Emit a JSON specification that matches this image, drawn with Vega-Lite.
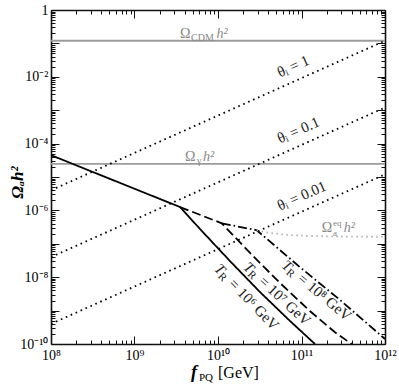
{
"$schema": "https://vega.github.io/schema/vega-lite/v6.json",
"width": 334, "height": 334,
"autosize": {"type": "none"},
"padding": {"left": 51, "top": 10, "right": 14, "bottom": 41},
"background": "white",
"config": {
  "view": {"stroke": null},
  "font": "Liberation Serif",
  "axis": {"domainColor": "#111111", "domainWidth": 1.6, "tickColor": "#111111", "tickWidth": 1, "labelFont": "Liberation Serif", "labelFontSize": 14, "labelColor": "black", "grid": false, "titleFont": "Liberation Serif", "labelOverlap": false, "labelBound": false, "labelFlush": false, "titleColor": "black"}
},
"layer": [
  {
    "data": {"values": [
      {"s": "CDM", "x": 1e8, "y": 0.12}, {"s": "CDM", "x": 1e12, "y": 0.12},
      {"s": "gamma", "x": 1e8, "y": 2.47e-5}, {"s": "gamma", "x": 1e12, "y": 2.47e-5},
      {"s": "th1", "x": 1e8, "y": 4e-6}, {"s": "th1", "x": 1e12, "y": 0.12},
      {"s": "th01", "x": 1e8, "y": 4e-8}, {"s": "th01", "x": 1e12, "y": 1.2e-3},
      {"s": "th001", "x": 1e8, "y": 4e-10}, {"s": "th001", "x": 1e12, "y": 1.2e-5},
      {"s": "TR6", "x": 1e8, "y": 4.5e-5}, {"s": "TR6", "x": 3.51e9, "y": 1.26e-6}, {"s": "TR6", "x": 6.09e9, "y": 2.77e-7}, {"s": "TR6", "x": 1.39e10, "y": 3.05e-8}, {"s": "TR6", "x": 3.18e10, "y": 3.6e-9}, {"s": "TR6", "x": 7.28e10, "y": 4.89e-10}, {"s": "TR6", "x": 1.45e11, "y": 1e-10},
      {"s": "TR7", "x": 3.51e9, "y": 1.26e-6}, {"s": "TR7", "x": 1.11e10, "y": 4.11e-7}, {"s": "TR7", "x": 2.42e10, "y": 5.31e-8}, {"s": "TR7", "x": 5.53e10, "y": 6.7e-9}, {"s": "TR7", "x": 1.26e11, "y": 9.7e-10}, {"s": "TR7", "x": 2.52e11, "y": 2.24e-10}, {"s": "TR7", "x": 3.99e11, "y": 1e-10},
      {"s": "TR8", "x": 1.11e10, "y": 4.11e-7}, {"s": "TR8", "x": 2.91e10, "y": 2.55e-7}, {"s": "TR8", "x": 9.6e10, "y": 1.99e-8}, {"s": "TR8", "x": 2.89e11, "y": 2.08e-9}, {"s": "TR8", "x": 1e12, "y": 1.41e-10},
      {"s": "eq", "x": 2.91e10, "y": 2.55e-7}, {"s": "eq", "x": 4e10, "y": 2.15e-7}, {"s": "eq", "x": 6e10, "y": 1.9e-7}, {"s": "eq", "x": 1e11, "y": 1.75e-7}, {"s": "eq", "x": 2e11, "y": 1.67e-7}, {"s": "eq", "x": 5e11, "y": 1.63e-7}, {"s": "eq", "x": 1e12, "y": 1.62e-7}
    ]},
    "mark": {"type": "line", "strokeWidth": 1.8, "clip": true},
    "encoding": {
      "x": {"field": "x", "type": "quantitative", "scale": {"type": "log", "domain": [1e8, 1e12]},
        "axis": {"orient": "bottom", "values": [1e8, 1e9, 1e10, 1e11, 1e12], "tickSize": -8, "labelPadding": 12, "title": null,
          "labelExpr": "{'8':'10⁸','9':'10⁹','10':'10¹⁰','11':'10¹¹','12':'10¹²'}['' + round(log(datum.value)/LN10)]"}},
      "y": {"field": "y", "type": "quantitative", "scale": {"type": "log", "domain": [1e-10, 1]},
        "axis": {"orient": "left", "values": [1e-10, 1e-9, 1e-8, 1e-7, 1e-6, 1e-5, 1e-4, 1e-3, 1e-2, 1e-1, 1], "tickSize": -8, "labelPadding": 11,
          "labelExpr": "{'0':'1','-2':'10⁻²','-4':'10⁻⁴','-6':'10⁻⁶','-8':'10⁻⁸','-10':'10⁻¹⁰'}['' + round(log(datum.value)/LN10)] || ''",
          "title": "Ωₐh²", "titleFontSize": 17, "titleFontWeight": "bold", "titleFontStyle": "italic", "titleAngle": -90, "titleX": -25, "titleY": 172, "titleAlign": "center", "titleBaseline": "bottom"}},
      "color": {"field": "s", "type": "nominal", "legend": null,
        "scale": {"domain": ["CDM", "gamma", "th1", "th01", "th001", "TR6", "TR7", "TR8", "eq"], "range": ["#9c9c9c", "#9c9c9c", "#000000", "#000000", "#000000", "#000000", "#000000", "#000000", "#aaaaaa"]}},
      "strokeDash": {"field": "s", "type": "nominal", "legend": null,
        "scale": {"domain": ["CDM", "gamma", "th1", "th01", "th001", "TR6", "TR7", "TR8", "eq"], "range": [[1, 0], [1, 0], [1.6, 3.8], [1.6, 3.8], [1.6, 3.8], [1, 0], [9, 4], [9, 3, 1.6, 3], [1.4, 3.6]]}}
    }
  },
  {
    "data": {"values": [{"t": "Ω", "x": 3.51e9, "y": 0.145}, {"t": "Ω", "x": 4.03e9, "y": 3.0e-5}, {"t": "Ω", "x": 1.75e11, "y": 2.3e-7}]},
    "mark": {"type": "text", "align": "left", "baseline": "alphabetic", "fontSize": 14, "color": "#888888", "font": "Liberation Serif"},
    "encoding": {
      "text": {"field": "t"},
      "x": {"field": "x", "type": "quantitative", "scale": {"type": "log", "domain": [1e8, 1e12]},
        "axis": {"orient": "bottom", "values": [2e8,3e8,4e8,5e8,6e8,7e8,8e8,9e8,2e9,3e9,4e9,5e9,6e9,7e9,8e9,9e9,2e10,3e10,4e10,5e10,6e10,7e10,8e10,9e10,2e11,3e11,4e11,5e11,6e11,7e11,8e11,9e11], "tickSize": -4, "labels": false, "domain": false, "title": null}},
      "y": {"field": "y", "type": "quantitative", "scale": {"type": "log", "domain": [1e-10, 1]},
        "axis": {"orient": "left", "values": [2e-10,3e-10,4e-10,5e-10,6e-10,7e-10,8e-10,9e-10,2e-9,3e-9,4e-9,5e-9,6e-9,7e-9,8e-9,9e-9,2e-8,3e-8,4e-8,5e-8,6e-8,7e-8,8e-8,9e-8,2e-7,3e-7,4e-7,5e-7,6e-7,7e-7,8e-7,9e-7,2e-6,3e-6,4e-6,5e-6,6e-6,7e-6,8e-6,9e-6,2e-5,3e-5,4e-5,5e-5,6e-5,7e-5,8e-5,9e-5,2e-4,3e-4,4e-4,5e-4,6e-4,7e-4,8e-4,9e-4,2e-3,3e-3,4e-3,5e-3,6e-3,7e-3,8e-3,9e-3,2e-2,3e-2,4e-2,5e-2,6e-2,7e-2,8e-2,9e-2,0.2,0.3,0.4,0.5,0.6,0.7,0.8,0.9], "tickSize": -4, "labels": false, "domain": false, "title": null}}
    }
  },
  {
    "data": {"values": [{"t": "CDM", "x": 4.75e9, "y": 0.145}, {"t": "γ", "x": 5.6e9, "y": 3.0e-5}]},
    "mark": {"type": "text", "align": "left", "baseline": "alphabetic", "fontSize": 10, "dy": 3, "color": "#888888", "font": "Liberation Serif"},
    "encoding": {
      "text": {"field": "t"},
      "x": {"field": "x", "type": "quantitative", "scale": {"type": "log", "domain": [1e8, 1e12]},
        "axis": {"orient": "top", "values": [1e8, 1e9, 1e10, 1e11, 1e12], "tickSize": -8, "labels": false, "title": null}},
      "y": {"field": "y", "type": "quantitative", "scale": {"type": "log", "domain": [1e-10, 1]},
        "axis": {"orient": "right", "values": [1e-10, 1e-9, 1e-8, 1e-7, 1e-6, 1e-5, 1e-4, 1e-3, 1e-2, 1e-1, 1], "tickSize": -8, "labels": false, "title": null}}
    }
  },
  {
    "data": {"values": [{"t": "eq", "x": 2.38e11, "y": 2.3e-7}]},
    "mark": {"type": "text", "align": "left", "baseline": "alphabetic", "fontSize": 9, "dy": -6, "color": "#888888", "font": "Liberation Serif"},
    "encoding": {
      "text": {"field": "t"},
      "x": {"field": "x", "type": "quantitative", "scale": {"type": "log", "domain": [1e8, 1e12]},
        "axis": {"orient": "top", "values": [2e8,3e8,4e8,5e8,6e8,7e8,8e8,9e8,2e9,3e9,4e9,5e9,6e9,7e9,8e9,9e9,2e10,3e10,4e10,5e10,6e10,7e10,8e10,9e10,2e11,3e11,4e11,5e11,6e11,7e11,8e11,9e11], "tickSize": -4, "labels": false, "domain": false, "title": null}},
      "y": {"field": "y", "type": "quantitative", "scale": {"type": "log", "domain": [1e-10, 1]},
        "axis": {"orient": "right", "values": [2e-10,3e-10,4e-10,5e-10,6e-10,7e-10,8e-10,9e-10,2e-9,3e-9,4e-9,5e-9,6e-9,7e-9,8e-9,9e-9,2e-8,3e-8,4e-8,5e-8,6e-8,7e-8,8e-8,9e-8,2e-7,3e-7,4e-7,5e-7,6e-7,7e-7,8e-7,9e-7,2e-6,3e-6,4e-6,5e-6,6e-6,7e-6,8e-6,9e-6,2e-5,3e-5,4e-5,5e-5,6e-5,7e-5,8e-5,9e-5,2e-4,3e-4,4e-4,5e-4,6e-4,7e-4,8e-4,9e-4,2e-3,3e-3,4e-3,5e-3,6e-3,7e-3,8e-3,9e-3,2e-2,3e-2,4e-2,5e-2,6e-2,7e-2,8e-2,9e-2,0.2,0.3,0.4,0.5,0.6,0.7,0.8,0.9], "tickSize": -4, "labels": false, "domain": false, "title": null}}
    }
  },
  {
    "data": {"values": [{"t": "a", "x": 2.38e11, "y": 2.3e-7}]},
    "mark": {"type": "text", "align": "left", "baseline": "alphabetic", "fontSize": 9, "dy": 4, "color": "#888888", "font": "Liberation Serif"},
    "encoding": {
      "text": {"field": "t"},
      "x": {"field": "x", "type": "quantitative", "scale": {"type": "log", "domain": [1e8, 1e12]}, "axis": null},
      "y": {"field": "y", "type": "quantitative", "scale": {"type": "log", "domain": [1e-10, 1]}, "axis": null}
    }
  },
  {
    "data": {"values": [{"t": "h²", "x": 9.6e9, "y": 0.145}, {"t": "h²", "x": 6.6e9, "y": 3.0e-5}, {"t": "h²", "x": 3.2e11, "y": 2.3e-7}]},
    "mark": {"type": "text", "align": "left", "baseline": "alphabetic", "fontSize": 14, "fontStyle": "italic", "color": "#888888", "font": "Liberation Serif"},
    "encoding": {
      "text": {"field": "t"},
      "x": {"field": "x", "type": "quantitative", "scale": {"type": "log", "domain": [1e8, 1e12]}, "axis": null},
      "y": {"field": "y", "type": "quantitative", "scale": {"type": "log", "domain": [1e-10, 1]}, "axis": null}
    }
  },
  {
    "data": {"values": [{"t": "θᵢ = 1", "x": 5.53e10, "y": 9.6e-3}, {"t": "θᵢ = 0.1", "x": 5.53e10, "y": 1.0e-4}, {"t": "θᵢ = 0.01", "x": 5.53e10, "y": 9.8e-7}]},
    "mark": {"type": "text", "align": "left", "baseline": "alphabetic", "fontSize": 15, "angle": -24, "color": "#222222", "font": "Liberation Serif"},
    "encoding": {
      "text": {"field": "t"},
      "x": {"field": "x", "type": "quantitative", "scale": {"type": "log", "domain": [1e8, 1e12]}, "axis": null},
      "y": {"field": "y", "type": "quantitative", "scale": {"type": "log", "domain": [1e-10, 1]}, "axis": null}
    }
  },
  {
    "data": {"values": [{"t": "T", "x": 9.73e9, "y": 2.16e-8}]},
    "mark": {"type": "text", "align": "left", "baseline": "middle", "fontSize": 15, "fontStyle": "italic", "angle": 46, "color": "#222222", "font": "Liberation Serif"},
    "encoding": {"text": {"field": "t"},
      "x": {"field": "x", "type": "quantitative", "scale": {"type": "log", "domain": [1e8, 1e12]}, "axis": null},
      "y": {"field": "y", "type": "quantitative", "scale": {"type": "log", "domain": [1e-10, 1]}, "axis": null}}
  },
  {
    "data": {"values": [{"t": "R", "x": 9.73e9, "y": 2.16e-8}]},
    "mark": {"type": "text", "align": "left", "baseline": "middle", "fontSize": 11, "dx": 8, "dy": 4, "angle": 46, "color": "#222222", "font": "Liberation Serif"},
    "encoding": {"text": {"field": "t"},
      "x": {"field": "x", "type": "quantitative", "scale": {"type": "log", "domain": [1e8, 1e12]}, "axis": null},
      "y": {"field": "y", "type": "quantitative", "scale": {"type": "log", "domain": [1e-10, 1]}, "axis": null}}
  },
  {
    "data": {"values": [{"t": "= 10⁶ GeV", "x": 9.73e9, "y": 2.16e-8}]},
    "mark": {"type": "text", "align": "left", "baseline": "middle", "fontSize": 15, "dx": 21, "angle": 46, "color": "#222222", "font": "Liberation Serif"},
    "encoding": {"text": {"field": "t"},
      "x": {"field": "x", "type": "quantitative", "scale": {"type": "log", "domain": [1e8, 1e12]}, "axis": null},
      "y": {"field": "y", "type": "quantitative", "scale": {"type": "log", "domain": [1e-10, 1]}, "axis": null}}
  },
  {
    "data": {"values": [{"t": "T", "x": 2.16e10, "y": 2.4e-8}]},
    "mark": {"type": "text", "align": "left", "baseline": "middle", "fontSize": 15, "fontStyle": "italic", "angle": 43, "color": "#222222", "font": "Liberation Serif"},
    "encoding": {"text": {"field": "t"},
      "x": {"field": "x", "type": "quantitative", "scale": {"type": "log", "domain": [1e8, 1e12]}, "axis": null},
      "y": {"field": "y", "type": "quantitative", "scale": {"type": "log", "domain": [1e-10, 1]}, "axis": null}}
  },
  {
    "data": {"values": [{"t": "R", "x": 2.16e10, "y": 2.4e-8}]},
    "mark": {"type": "text", "align": "left", "baseline": "middle", "fontSize": 11, "dx": 8, "dy": 4, "angle": 43, "color": "#222222", "font": "Liberation Serif"},
    "encoding": {"text": {"field": "t"},
      "x": {"field": "x", "type": "quantitative", "scale": {"type": "log", "domain": [1e8, 1e12]}, "axis": null},
      "y": {"field": "y", "type": "quantitative", "scale": {"type": "log", "domain": [1e-10, 1]}, "axis": null}}
  },
  {
    "data": {"values": [{"t": "= 10⁷ GeV", "x": 2.16e10, "y": 2.4e-8}]},
    "mark": {"type": "text", "align": "left", "baseline": "middle", "fontSize": 15, "dx": 21, "angle": 43, "color": "#222222", "font": "Liberation Serif"},
    "encoding": {"text": {"field": "t"},
      "x": {"field": "x", "type": "quantitative", "scale": {"type": "log", "domain": [1e8, 1e12]}, "axis": null},
      "y": {"field": "y", "type": "quantitative", "scale": {"type": "log", "domain": [1e-10, 1]}, "axis": null}}
  },
  {
    "data": {"values": [{"t": "T", "x": 6.17e10, "y": 2.66e-8}]},
    "mark": {"type": "text", "align": "left", "baseline": "middle", "fontSize": 15, "fontStyle": "italic", "angle": 40, "color": "#222222", "font": "Liberation Serif"},
    "encoding": {"text": {"field": "t"},
      "x": {"field": "x", "type": "quantitative", "scale": {"type": "log", "domain": [1e8, 1e12]}, "axis": null},
      "y": {"field": "y", "type": "quantitative", "scale": {"type": "log", "domain": [1e-10, 1]}, "axis": null}}
  },
  {
    "data": {"values": [{"t": "R", "x": 6.17e10, "y": 2.66e-8}]},
    "mark": {"type": "text", "align": "left", "baseline": "middle", "fontSize": 11, "dx": 8, "dy": 4, "angle": 40, "color": "#222222", "font": "Liberation Serif"},
    "encoding": {"text": {"field": "t"},
      "x": {"field": "x", "type": "quantitative", "scale": {"type": "log", "domain": [1e8, 1e12]}, "axis": null},
      "y": {"field": "y", "type": "quantitative", "scale": {"type": "log", "domain": [1e-10, 1]}, "axis": null}}
  },
  {
    "data": {"values": [{"t": "= 10⁸ GeV", "x": 6.17e10, "y": 2.66e-8}]},
    "mark": {"type": "text", "align": "left", "baseline": "middle", "fontSize": 15, "dx": 21, "angle": 40, "color": "#222222", "font": "Liberation Serif"},
    "encoding": {"text": {"field": "t"},
      "x": {"field": "x", "type": "quantitative", "scale": {"type": "log", "domain": [1e8, 1e12]}, "axis": null},
      "y": {"field": "y", "type": "quantitative", "scale": {"type": "log", "domain": [1e-10, 1]}, "axis": null}}
  },
  {
    "data": {"values": [{"t": "f", "x": 1e10, "y": 1e-10}]},
    "mark": {"type": "text", "align": "right", "baseline": "alphabetic", "fontSize": 18, "fontWeight": "bold", "fontStyle": "italic", "dx": -21, "dy": 34, "color": "black", "font": "Liberation Serif"},
    "encoding": {"text": {"field": "t"},
      "x": {"field": "x", "type": "quantitative", "scale": {"type": "log", "domain": [1e8, 1e12]}, "axis": null},
      "y": {"field": "y", "type": "quantitative", "scale": {"type": "log", "domain": [1e-10, 1]}, "axis": null}}
  },
  {
    "data": {"values": [{"t": "PQ", "x": 1e10, "y": 1e-10}]},
    "mark": {"type": "text", "align": "right", "baseline": "alphabetic", "fontSize": 11, "dx": -5, "dy": 37, "color": "black", "font": "Liberation Serif"},
    "encoding": {"text": {"field": "t"},
      "x": {"field": "x", "type": "quantitative", "scale": {"type": "log", "domain": [1e8, 1e12]}, "axis": null},
      "y": {"field": "y", "type": "quantitative", "scale": {"type": "log", "domain": [1e-10, 1]}, "axis": null}}
  },
  {
    "data": {"values": [{"t": "[GeV]", "x": 1e10, "y": 1e-10}]},
    "mark": {"type": "text", "align": "left", "baseline": "alphabetic", "fontSize": 16, "dx": 0, "dy": 34, "color": "black", "font": "Liberation Serif"},
    "encoding": {"text": {"field": "t"},
      "x": {"field": "x", "type": "quantitative", "scale": {"type": "log", "domain": [1e8, 1e12]}, "axis": null},
      "y": {"field": "y", "type": "quantitative", "scale": {"type": "log", "domain": [1e-10, 1]}, "axis": null}}
  }
],
"resolve": {"axis": {"x": "independent", "y": "independent"}}
}
